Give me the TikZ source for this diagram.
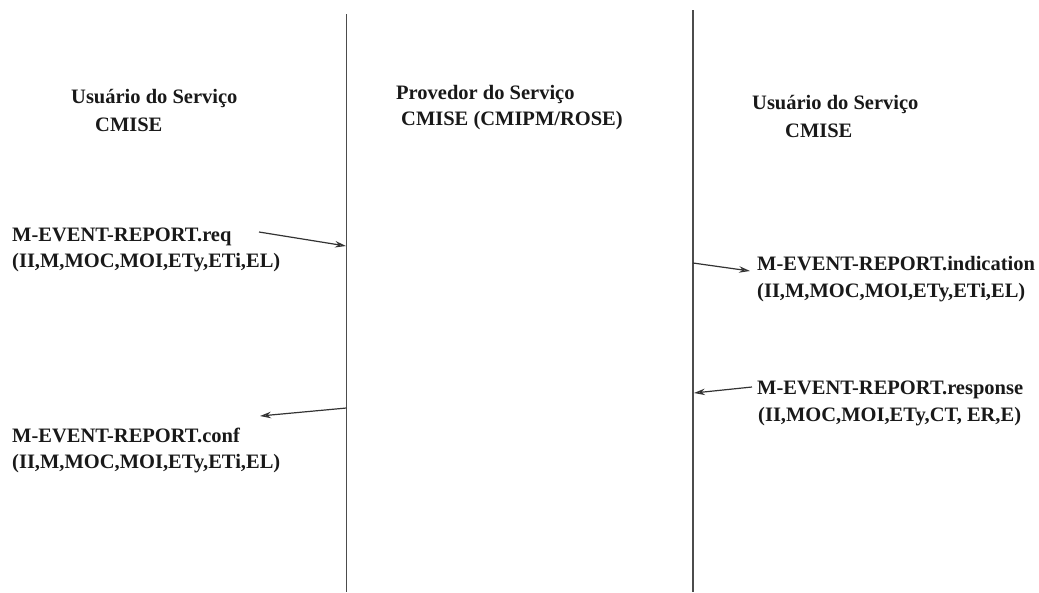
\documentclass[tikz,border=0pt]{standalone}
\usepackage{fontspec}
\setmainfont{Liberation Serif}
\usetikzlibrary{arrows.meta}
\begin{document}
\begin{tikzpicture}[x=1pt,y=-1pt,
  lbl/.style={anchor=base west,inner sep=0pt,font=\fontsize{20.5}{24}\selectfont\bfseries,text=black!90},
  lifeline/.style={draw=black!70,line width=1.5pt},
  msg/.style={draw=black!80,line width=1.2pt,-{Stealth[length=11pt,width=6.5pt,open]}}]
\useasboundingbox (0,0) rectangle (1039,592);
% lifelines
\coordinate (l1t) at (346.5,14);
\coordinate (l1b) at (346.5,592);
\coordinate (l2t) at (693,10);
\coordinate (l2b) at (693,592);
\draw[lifeline] (l1t) -- (l1b);
\draw[lifeline] (l2t) -- (l2b);
% headers
\node[lbl] (u1) at (71,103) {Usuário do Serviço};
\node[lbl] (c1) at (95,131) {CMISE};
\node[lbl] (p1) at (396,99) {Provedor do Serviço};
\node[lbl] (p2) at (401,125) {CMISE (CMIPM/ROSE)};
\node[lbl] (u2) at (752,109) {Usuário do Serviço};
\node[lbl] (c2) at (785,137) {CMISE};
% primitives
\node[lbl] (req) at (12,241) {M-EVENT-REPORT.req};
\node[lbl] (reqp) at (12,267) {(II,M,MOC,MOI,ETy,ETi,EL)};
\node[lbl] (conf) at (12,442) {M-EVENT-REPORT.conf};
\node[lbl] (confp) at (12,468) {(II,M,MOC,MOI,ETy,ETi,EL)};
\node[lbl] (ind) at (757,270) {M-EVENT-REPORT.indication};
\node[lbl] (indp) at (757,297) {(II,M,MOC,MOI,ETy,ETi,EL)};
\node[lbl] (resp) at (757,394) {M-EVENT-REPORT.response};
\node[lbl] (respp) at (758,421) {(II,MOC,MOI,ETy,CT, ER,E)};
% message points
\coordinate (a1s) at (259,232);
\coordinate (a1e) at (346,246);
\coordinate (a2s) at (346.5,408);
\coordinate (a2e) at (260,416);
\coordinate (a3s) at (693,263);
\coordinate (a3e) at (750,271);
\coordinate (a4s) at (752,387);
\coordinate (a4e) at (694,393);
\draw[msg] (a1s) -- (a1e);
\draw[msg] (a2s) -- (a2e);
\draw[msg] (a3s) -- (a3e);
\draw[msg] (a4s) -- (a4e);
\end{tikzpicture}
\end{document}
